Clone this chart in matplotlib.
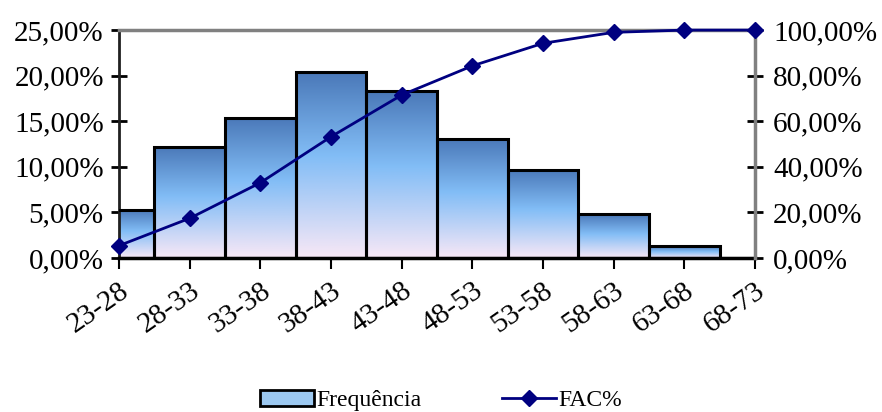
import numpy as np
import matplotlib
matplotlib.use("Agg")
import matplotlib.pyplot as plt
from matplotlib.colors import LinearSegmentedColormap
from matplotlib.patches import Patch
from matplotlib.lines import Line2D

plt.rcParams["font.family"] = ["Liberation Serif", "DejaVu Serif"]

# data
classes = ["23-28", "28-33", "33-38", "38-43", "43-48", "48-53", "53-58", "58-63", "63-68", "68-73"]
freq_pct = [5.3, 12.2, 15.4, 20.4, 18.3, 13.1, 9.7, 4.8, 1.3, 0.0]
fac_pct = [5.4, 17.4, 33.0, 53.2, 71.5, 84.3, 94.2, 99.0, 100.0, 100.0]

def pct_fmt(v, _pos=None):
    return f"{v:.2f}%".replace(".", ",")

grad = LinearSegmentedColormap.from_list(
    "bargrad", [(0.0, "#4a78b8"), (0.45, "#82bdf6"), (1.0, "#f8e8f6")])

fig = plt.figure(figsize=(8.82, 4.12), dpi=100)
ax = fig.add_axes([0.135, 0.374, 0.721, 0.553])
x = np.arange(len(classes))
xmin, xmax = 0, len(classes) - 1

bars = ax.bar(x, freq_pct, width=1.0, facecolor="none", edgecolor="black",
              linewidth=2.2, zorder=3)
g = np.linspace(0, 1, 256).reshape(-1, 1)
for b in bars:
    h = b.get_height()
    if h <= 0:
        continue
    x0 = max(b.get_x(), xmin)
    x1 = min(b.get_x() + b.get_width(), xmax)
    im = ax.imshow(g, cmap=grad, aspect="auto", origin="upper",
                   extent=(x0, x1, 0, h), zorder=2)
    im.set_clip_path(b)

ax.set_xlim(xmin, xmax)
ax.set_ylim(0, 25)
ax.set_yticks(np.arange(0, 26, 5))
ax.yaxis.set_major_formatter(plt.FuncFormatter(pct_fmt))
ax.set_xticks(x)
ax.set_xticklabels(classes, rotation=35, ha="right", rotation_mode="anchor")
ax.tick_params(axis="x", direction="out", length=8, width=1.5, labelsize=21, pad=6)
ax.tick_params(axis="y", direction="inout", length=12, width=2, labelsize=21, pad=5)

ax.spines["top"].set_color("#808080")
ax.spines["top"].set_linewidth(2.5)
ax.spines["left"].set_color("#202020")
ax.spines["left"].set_linewidth(2)
ax.spines["bottom"].set_linewidth(2.5)
ax.spines["right"].set_visible(False)

ax2 = ax.twinx()
ax2.plot(x, fac_pct, color="#000080", linewidth=2, marker="D", markersize=8,
         clip_on=False, zorder=5)
ax2.set_ylim(0, 100)
ax2.set_yticks(np.arange(0, 101, 20))
ax2.yaxis.set_major_formatter(plt.FuncFormatter(pct_fmt))
ax2.tick_params(axis="y", direction="inout", length=12, width=2, labelsize=21, pad=7)
ax2.spines["right"].set_color("#808080")
ax2.spines["right"].set_linewidth(2.5)
for s in ["top", "left", "bottom"]:
    ax2.spines[s].set_visible(False)

handles = [Patch(facecolor="#9cc8f0", edgecolor="black", linewidth=2),
           Line2D([0], [0], color="#000080", linewidth=2, marker="D", markersize=8)]
fig.legend(handles, ["Frequência", "FAC%"], loc="lower center",
           bbox_to_anchor=(0.5, -0.05), ncol=2, frameon=False, fontsize=17,
           handlelength=2.3, columnspacing=3.4, handletextpad=0.1)

fig.savefig("out.png", dpi=100)
